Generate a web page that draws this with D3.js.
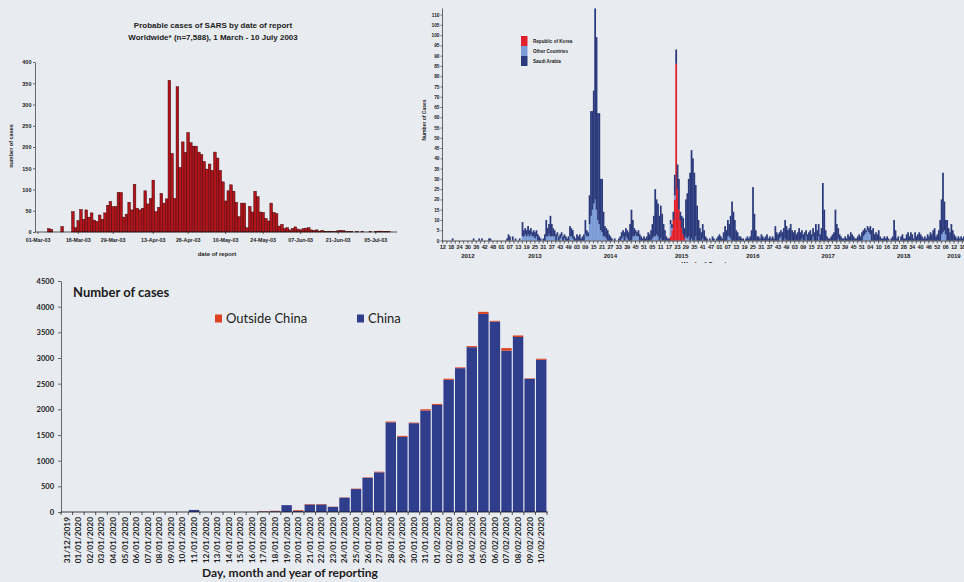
<!DOCTYPE html>
<html>
<head>
<meta charset="utf-8">
<script src="https://d3js.org/d3.v7.min.js"></script>
<style>
  body { margin: 0; background: #e8ebf0; }
  svg { display: block; }
  .sars text, .mers text { font-family: "Liberation Sans", Arial, sans-serif; font-weight: bold; fill: #1c1c1c; }
  .covid text { font-family: Lato, "Open Sans", sans-serif; fill: #1c1c1c; }
</style>
</head>
<body>
<div id="page"></div>
<script>

//----- SARS, probable cases by date of report (daily, from 1 March 2003)
var sarsTitle = ["Probable cases of SARS by date of report", "Worldwide* (n=7,588), 1 March - 10 July 2003"];
var sarsStart = "01-Mar-03";
var sarsCases = [
  0,0,0,0,8,6,0,0,0,13,0,0,0,
  48,10,27,53,30,52,35,45,28,25,40,30,45,63,72,60,60,
  93,93,35,42,70,52,112,56,52,56,97,66,79,122,48,58,91,68,78,357,185,79,342,152,212,187,
  234,210,202,202,188,182,166,148,160,
  145,188,174,145,118,73,97,111,96,70,36,68,68,10,60,47,96,83,47,46,32,26,68,46,43,14,18,
  8,10,5,8,12,7,5,8,9,10,5,4,5,2,4,2,1,2,1,1,3,4,3,1,1,1,0,1,0,1,0,0,1,0,1,2,2,1,1,1
];
var sarsTickLabels = ["01-Mar-03","16-Mar-03","29-Mar-03","13-Apr-03","26-Apr-03","10-May-03","24-May-03","07-Jun-03","21-Jun-03","05-Jul-03"];
var sarsYTicks = [0,50,100,150,200,250,300,350,400];

//----- MERS, cases by week of onset (week 0 = 2012 week 12)
var mersSaudi = [
  0,0,0,0,0,0,0,1,0,0,0,0,0,0,0,0,0,0,0,0,
  0,0,1,0,0,0,1,0,1,0,0,0,0,1,1,0,0,0,0,0,
  0,0,0,0,0,0,1,3,2,0,2,0,1,0,0,1,0,7,3,3,
  3,4,3,3,2,3,3,3,3,2,1,0,1,3,8,4,5,10,6,4,
  3,3,2,2,2,2,2,2,2,1,2,5,4,4,2,1,3,2,3,1,
  2,3,7,3,2,14,51,48,55,93,84,52,54,25,26,12,5,5,5,3,
  2,1,0,1,0,0,1,2,3,3,4,4,4,4,8,15,8,4,2,2,
  3,3,2,1,2,1,2,4,3,5,7,10,23,17,16,12,16,13,8,5,
  2,1,1,2,2,4,10,7,12,15,4,6,8,5,18,22,28,33,43,40,
  33,25,17,10,6,4,7,5,2,1,0,1,0,2,1,0,1,2,3,2,
  1,4,7,5,8,6,11,19,14,10,5,4,2,2,1,1,0,1,2,1,
  2,5,26,13,5,2,2,1,3,2,1,2,3,1,2,1,2,1,7,4,
  3,3,3,4,6,9,7,5,6,8,5,4,5,3,4,6,4,4,3,4,
  3,3,4,5,3,4,4,8,5,6,3,6,28,15,5,2,1,1,2,3,
  4,15,8,5,3,2,1,1,2,1,3,2,4,3,2,1,1,2,3,2,
  4,3,3,1,2,2,4,5,6,3,4,3,5,2,1,1,2,1,2,1,
  0,1,2,10,5,1,2,0,2,3,1,1,3,4,2,4,3,1,4,2,
  3,4,3,2,1,2,1,3,2,4,3,5,6,2,3,5,10,17,29,14,
  7,10,6,4,8,5,3,2,1,2,1,2,1,2
];
// [week, cases]
var mersOthers = [
  [57,2],[58,2],[59,3],[60,2],[61,3],[62,2],[63,3],[64,2],[65,2],[66,1],[67,2],
  [74,2],[75,2],[76,3],[77,2],[78,2],[79,2],[80,2],[82,2],[84,1],[85,2],[87,1],[91,2],[92,2],[93,1],
  [102,3],[103,2],[104,2],[105,8],[106,12],[107,15],[108,18],[109,20],[110,15],[111,10],[112,8],
  [113,5],[114,4],[115,2],[116,2],[117,1],[128,1],[129,2],[131,2],[132,1],[136,2],[137,2],[138,3],
  [139,2],[140,2],[150,1],[151,2],[152,2],[153,3],[154,2],[156,1],[163,6],[164,1],[166,2],
  [174,2],[175,1],[176,2],[178,1],[181,2],[186,1],[204,2],[205,2],[206,1],[241,1],[242,2],
  [245,1],[257,1],[260,2],[265,2],[269,2],[283,1],[301,2],[302,3],[303,4],[304,5],[305,4],
  [306,3],[357,3],[358,4],[359,5],[360,3]
];
var mersKorea = [[163,2],[164,5],[165,10],[166,20],[167,86],[168,25],[169,15],[170,10],[171,6],[172,3],[173,1]];
var mersYears = [2012,2013,2014,2015,2016,2017,2018,2019];
var mersWeekLabels = [
  [12,18,24,30,36,42,48],
  [1,7,13,19,25,31,37,43,49],
  [3,9,15,21,27,33,39,45,51],
  [5,11,17,23,29,35,41,47],
  [1,7,13,19,25,31,37,43,49],
  [3,9,15,21,27,33,39,45,51],
  [4,10,16,22,28,34,40,46,52],
  [6,12,18]
];
var mersYTicks = [0,5,10,15,20,25,30,35,40,45,50,55,60,65,70,75,80,85,90,95,100,105,110];
var mersSeries = ["Republic of Korea","Other Countries","Saudi Arabia"];

//----- COVID-19, cases by day of reporting
var covidDates = [
  "31/12/2019","01/01/2020","02/01/2020","03/01/2020","04/01/2020","05/01/2020","06/01/2020",
  "07/01/2020","08/01/2020","09/01/2020","10/01/2020","11/01/2020","12/01/2020","13/01/2020",
  "14/01/2020","15/01/2020","16/01/2020","17/01/2020","18/01/2020","19/01/2020","20/01/2020",
  "21/01/2020","22/01/2020","23/01/2020","24/01/2020","25/01/2020","26/01/2020","27/01/2020",
  "28/01/2020","29/01/2020","30/01/2020","31/01/2020","01/02/2020","02/02/2020","03/02/2020",
  "04/02/2020","05/02/2020","06/02/2020","07/02/2020","08/02/2020","09/02/2020","10/02/2020"
];
var covidChina = [0,0,0,0,0,0,0,0,0,0,0,40,0,0,0,0,0,10,16,133,20,
  145,147,98,279,447,665,773,1747,1463,1730,1976,2085,2575,2802,3210,3859,3709,3143,3409,2594,2966];
var covidOutside = [0,0,0,0,0,0,0,0,0,0,0,0,0,0,0,0,0,8,8,0,15,
  10,8,6,6,8,10,12,15,20,12,25,20,22,15,22,40,15,50,30,10,20];
var covidYTicks = [0,500,1000,1500,2000,2500,3000,3500,4000,4500];
var covidSeries = ["Outside China","China"];


var W = 964, H = 582;
var svg = d3.select("#page").append("svg").attr("width", W).attr("height", H);
svg.append("rect").attr("width", W).attr("height", H).attr("fill", "#e8ebf0");

drawSarsChart(svg);
drawMersChart(svg);
drawCovidChart(svg);


//make the d3 axis look like the scanned print
function styleAxis(axis, fontSize){
    axis.attr("font-family", null).attr("font-size", null);
    axis.selectAll("text").attr("font-size", fontSize);
    axis.selectAll("line, path").attr("stroke", "#111").attr("stroke-width", 0.6);
}


function drawSarsChart(svg){

    var g = svg.append("g").attr("class", "sars");
    var parse = d3.timeParse("%d-%b-%y");
    var start = parse(sarsStart);

    var x = d3.scaleBand()
              .domain(d3.range(sarsCases.length))
              .range([36.7, 36.7 + 2.68 * sarsCases.length]);
    var y = d3.scaleLinear().domain([0, 400]).range([232, 62]);

    g.selectAll(".title")
     .data(sarsTitle)
     .join("text")
     .attr("class", "title")
     .attr("x", 213).attr("y", (d, i) => 28 + i * 11.5)
     .attr("text-anchor", "middle")
     .attr("font-size", 8)
     .text(d => d);

    g.append("g")
     .selectAll("rect")
     .data(sarsCases.map((v, i) => ({i: i, v: v})).filter(d => d.v > 0))
     .join("rect")
     .attr("x", d => x(d.i))
     .attr("width", x.bandwidth())
     .attr("y", d => y(d.v))
     .attr("height", d => y(0) - y(d.v))
     .attr("fill", "#b3141c")
     .attr("stroke", "#3a0606")
     .attr("stroke-width", 0.45);

    var yAxis = g.append("g")
                 .attr("transform", "translate(35,0)")
                 .call(d3.axisLeft(y).tickValues(sarsYTicks).tickSize(2).tickPadding(1.5).tickSizeOuter(0));
    styleAxis(yAxis, 5.5);

    var tickIdx = sarsTickLabels.map(s => d3.timeDay.count(start, parse(s)));
    var xAxis = g.append("g")
                 .attr("transform", "translate(0,232)")
                 .call(d3.axisBottom(x).tickValues(tickIdx)
                         .tickFormat((d, i) => sarsTickLabels[i])
                         .tickSize(2).tickPadding(4).tickSizeOuter(0));
    xAxis.select(".domain").remove();
    styleAxis(xAxis, 5.3);

    g.append("line")
     .attr("x1", 35).attr("x2", 397)
     .attr("y1", 232).attr("y2", 232)
     .attr("stroke", "#111").attr("stroke-width", 0.7);

    g.append("text")
     .attr("x", 217).attr("y", 256)
     .attr("text-anchor", "middle")
     .attr("font-size", 6)
     .text("date of report");

    g.append("text")
     .attr("transform", "translate(13,146) rotate(-90)")
     .attr("text-anchor", "middle")
     .attr("font-size", 5.5)
     .text("number of cases");
}


function drawMersChart(svg){

    svg.append("defs").append("clipPath").attr("id", "mersClip")
       .append("rect").attr("x", 418).attr("y", 0).attr("width", 546).attr("height", 263);

    var g = svg.append("g").attr("class", "mers").attr("clip-path", "url(#mersClip)");

    var n = mersSaudi.length;
    var othersMap = new Map(mersOthers);
    var koreaMap = new Map(mersKorea);
    var rows = mersSaudi.map((v, k) => ({
        week: k,
        korea: koreaMap.get(k) || 0,
        others: othersMap.get(k) || 0,
        saudi: v
    }));
    var keys = ["korea", "others", "saudi"];
    var colors = {korea: "#e2202b", others: "#7c9cd8", saudi: "#2b3a7c"};
    var stacked = d3.stack().keys(keys)(rows);

    var x = d3.scaleBand().domain(d3.range(n)).range([442, 442 + 1.397 * n]);
    var y = d3.scaleLinear().domain([0, 113.2]).range([240.5, 8]);
    var bw = x.bandwidth();

    g.append("g")
     .selectAll("g")
     .data(stacked)
     .join("g")
     .attr("fill", d => colors[d.key])
     .selectAll("rect")
     .data(d => d.filter(s => s[1] > s[0]))
     .join("rect")
     .attr("x", d => x(d.data.week))
     .attr("width", bw + 0.35)
     .attr("y", d => y(d[1]))
     .attr("height", d => y(d[0]) - y(d[1]));

    var yAxis = g.append("g")
                 .attr("transform", "translate(442,0)")
                 .call(d3.axisLeft(y).tickValues(mersYTicks).tickSize(1.5).tickPadding(1).tickSizeOuter(0));
    styleAxis(yAxis, 4.8);

    //x axis: line, small week ticks, week labels and year labels
    g.append("line")
     .attr("x1", 442).attr("x2", 964)
     .attr("y1", 241).attr("y2", 241)
     .attr("stroke", "#111").attr("stroke-width", 0.7);

    g.append("g")
     .selectAll("line")
     .data(d3.range(0, n, 3))
     .join("line")
     .attr("x1", k => x(k) + bw / 2).attr("x2", k => x(k) + bw / 2)
     .attr("y1", 241).attr("y2", 243.5)
     .attr("stroke", "#111").attr("stroke-width", 0.6);

    var flat = [];
    mersWeekLabels.forEach((weeks, yi) => weeks.forEach(w => flat.push({yi: yi, week: w})));
    var fmt = d3.format("02d");

    g.append("g")
     .selectAll("text")
     .data(flat)
     .join("text")
     .attr("x", (d, j) => x(j * 6) + bw / 2)
     .attr("y", 249)
     .attr("text-anchor", "middle")
     .attr("font-size", 5.6)
     .attr("letter-spacing", -0.2)
     .text(d => fmt(d.week));

    g.append("g")
     .selectAll("text")
     .data(mersYears)
     .join("text")
     .attr("x", (yr, yi) => {
         var idx = flat.map((d, j) => d.yi === yi ? j : -1).filter(j => j >= 0);
         return (x(idx[0] * 6) + x(idx[idx.length - 1] * 6)) / 2 + bw / 2;
     })
     .attr("y", 257.5)
     .attr("text-anchor", "middle")
     .attr("font-size", 6)
     .text(d => d);

    g.append("text")
     .attr("x", 704).attr("y", 267)
     .attr("text-anchor", "middle")
     .attr("font-size", 6.5)
     .text("Week of Onset");

    g.append("text")
     .attr("transform", "translate(426,120) rotate(-90)")
     .attr("text-anchor", "middle")
     .attr("font-size", 5)
     .text("Number of Cases");

    //legend, listed top series first
    var legendKeys = ["korea", "others", "saudi"];
    var legend = g.append("g").attr("class", "legend");
    legend.selectAll("rect")
          .data(legendKeys)
          .join("rect")
          .attr("x", 521).attr("width", 6.5)
          .attr("y", (d, i) => 36 + i * 10).attr("height", 10)
          .attr("fill", d => colors[d]);
    legend.selectAll("text")
          .data(mersSeries)
          .join("text")
          .attr("x", 533).attr("y", (d, i) => 42.6 + i * 10)
          .attr("font-size", 4.6)
          .text(d => d);
}


function drawCovidChart(svg){

    var g = svg.append("g").attr("class", "covid");

    var rows = covidDates.map((d, i) => ({date: d, china: covidChina[i], outside: covidOutside[i]}));
    var stacked = d3.stack().keys(["china", "outside"])(rows);
    var colors = {china: "#2f3d8d", outside: "#dc4220"};

    var x = d3.scaleBand().domain(covidDates).range([61, 547]).paddingInner(0.1).paddingOuter(0.05);
    var y = d3.scaleLinear().domain([0, 4500]).range([512, 281]);

    g.append("g")
     .selectAll("g")
     .data(stacked)
     .join("g")
     .attr("fill", d => colors[d.key])
     .selectAll("rect")
     .data(d => d.filter(s => s[1] > s[0]))
     .join("rect")
     .attr("x", d => x(d.data.date))
     .attr("width", x.bandwidth())
     .attr("y", d => y(d[1]))
     .attr("height", d => y(d[0]) - y(d[1]));

    var yAxis = g.append("g")
                 .attr("transform", "translate(61,0)")
                 .call(d3.axisLeft(y).tickValues(covidYTicks).tickFormat(d3.format("d"))
                         .tickSize(3).tickPadding(4).tickSizeOuter(0));
    styleAxis(yAxis, 7.5);
    yAxis.selectAll("text").attr("font-weight", "bold");

    //x axis with a tick between every day
    var step = x.step();
    g.append("line")
     .attr("x1", 61).attr("x2", 548)
     .attr("y1", 512).attr("y2", 512)
     .attr("stroke", "#111").attr("stroke-width", 0.8);
    g.append("g")
     .selectAll("line")
     .data(covidDates.concat(["end"]))
     .join("line")
     .attr("x1", (d, i) => 61 + i * step).attr("x2", (d, i) => 61 + i * step)
     .attr("y1", 512).attr("y2", 515)
     .attr("stroke", "#111").attr("stroke-width", 0.7);

    g.append("g")
     .selectAll("text")
     .data(covidDates)
     .join("text")
     .attr("transform", d => "translate(" + (x(d) + x.bandwidth() / 2) + ",517) rotate(-90)")
     .attr("dy", "0.35em")
     .attr("text-anchor", "end")
     .attr("font-size", 8.3)
     .attr("font-weight", "bold")
     .text(d => d);

    g.append("text")
     .attr("x", 290).attr("y", 577)
     .attr("text-anchor", "middle")
     .attr("font-size", 12)
     .attr("font-weight", "bold")
     .text("Day, month and year of reporting");

    g.append("text")
     .attr("x", 73).attr("y", 297)
     .attr("font-size", 13)
     .attr("font-weight", "bold")
     .text("Number of cases");

    //legend
    var legendX = [215, 357];
    var legendColors = [colors.outside, colors.china];
    var legend = g.append("g").attr("class", "legend");
    legend.selectAll("rect")
          .data(covidSeries)
          .join("rect")
          .attr("x", (d, i) => legendX[i]).attr("width", 7)
          .attr("y", 314.5).attr("height", 8)
          .attr("fill", (d, i) => legendColors[i]);
    legend.selectAll("text")
          .data(covidSeries)
          .join("text")
          .attr("x", (d, i) => legendX[i] + 11)
          .attr("y", 323)
          .attr("font-size", 13)
          .text(d => d);
}

</script>
</body>
</html>
